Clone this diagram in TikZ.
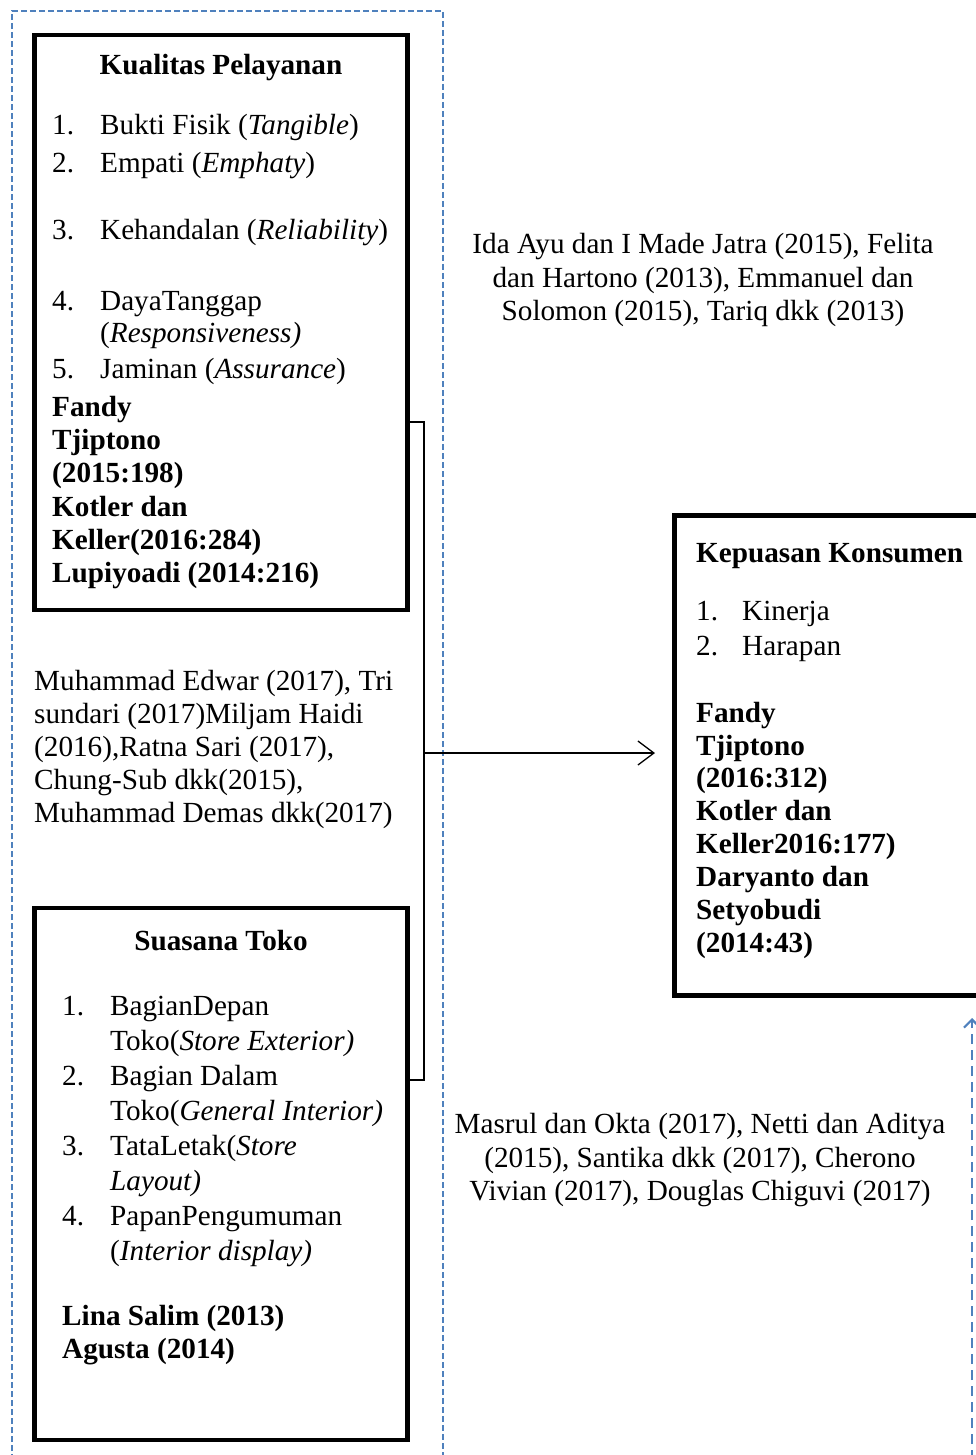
\documentclass[tikz,border=0pt]{standalone}
\usepackage{fontspec}
\setmainfont{Liberation Serif}
\usetikzlibrary{arrows.meta}
\definecolor{wblue}{HTML}{4F81BD}
\newcommand\tfs{\fontsize{29.2}{33}\selectfont}
\begin{document}
\begin{tikzpicture}[x=1pt,y=-1pt,
  box/.style={draw, line width=4.5pt, anchor=north west, inner sep=0pt, outer sep=0pt},
  conn/.style={draw, line width=1.3pt},
  txt/.style={anchor=base west, inner sep=0pt, font=\tfs},
  txtb/.style={txt, font=\tfs\bfseries},
  txtc/.style={anchor=base, inner sep=0pt, font=\tfs},
  txtcb/.style={txtc, font=\tfs\bfseries},
  frame/.style={draw=wblue, line width=1.5pt, dash pattern=on 6pt off 3pt},
  darrow/.style={draw=wblue, line width=2.2pt, dash pattern=on 10pt off 6pt}
]
\useasboundingbox (0,0) rectangle (976,1455);
\clip (0,0) rectangle (976,1455);

% outer dashed frame
\draw[frame] (12,1460) -- (12,11) -- (443,11) -- (443,1460);

% boxes
\node[box, minimum width=373pt, minimum height=575pt] (kq) at (34.5,35) {};
\node[box, minimum width=373pt, minimum height=532pt] (st) at (34.5,908) {};
\node[box, minimum width=320pt, minimum height=480pt] (kp) at (674.5,515.5) {};

% Kualitas Pelayanan
\node[txtcb] (kqt) at (221,75) {Kualitas Pelayanan};
\node[txt] (kn1) at (52,135) {1.}; \node[txt] (ki1) at (100,135) {Bukti Fisik (\textit{Tangible})};
\node[txt] (kn2) at (52,173) {2.}; \node[txt] (ki2) at (100,173) {Empati (\textit{Emphaty})};
\node[txt] (kn3) at (52,240) {3.}; \node[txt] (ki3) at (100,240) {Kehandalan (\textit{Reliability})};
\node[txt] (kn4) at (52,310) {4.}; \node[txt] (ki4) at (100,310) {DayaTanggap};
\node[txt] (ki4b) at (100,342) {(\textit{Responsiveness)}};
\node[txt] (kn5) at (52,378) {5.}; \node[txt] (ki5) at (100,378) {Jaminan (\textit{Assurance})};
\node[txtb] (kb1) at (52,416) {Fandy};
\node[txtb] (kb2) at (52,449) {Tjiptono};
\node[txtb] (kb3) at (52,482) {(2015:198)};
\node[txtb] (kb4) at (52,516) {Kotler dan};
\node[txtb] (kb5) at (52,549) {Keller(2016:284)};
\node[txtb] (kb6) at (52,582) {Lupiyoadi (2014:216)};

% middle-left references
\node[txt] (m1) at (34,690) {Muhammad Edwar (2017), Tri};
\node[txt] (m2) at (34,723) {sundari (2017)Miljam Haidi};
\node[txt] (m3) at (34,756) {(2016),Ratna Sari (2017),};
\node[txt] (m4) at (34,789) {Chung-Sub dkk(2015),};
\node[txt] (m5) at (34,822) {Muhammad Demas dkk(2017)};

% upper right references
\node[txtc] (r1) at (703,254) {Ida Ayu dan I Made Jatra (2015), Felita};
\node[txtc] (r2) at (703,287) {dan Hartono (2013), Emmanuel dan};
\node[txtc] (r3) at (703,320) {Solomon (2015), Tariq dkk (2013)};

% Kepuasan Konsumen
\node[txtb] (kpt) at (696,562) {Kepuasan Konsumen};
\node[txt] (pn1) at (696,620) {1.}; \node[txt] (pi1) at (742,620) {Kinerja};
\node[txt] (pn2) at (696,655) {2.}; \node[txt] (pi2) at (742,655) {Harapan};
\node[txtb] (pb1) at (696,722) {Fandy};
\node[txtb] (pb2) at (696,755) {Tjiptono};
\node[txtb] (pb3) at (696,787) {(2016:312)};
\node[txtb] (pb4) at (696,820) {Kotler dan};
\node[txtb] (pb5) at (696,853) {Keller2016:177)};
\node[txtb] (pb6) at (696,886) {Daryanto dan};
\node[txtb] (pb7) at (696,919) {Setyobudi};
\node[txtb] (pb8) at (696,952) {(2014:43)};

% Suasana Toko
\node[txtcb] (stt) at (221,950) {Suasana Toko};
\node[txt] (sn1) at (62,1015) {1.}; \node[txt] (si1) at (110,1015) {BagianDepan};
\node[txt] (si1b) at (110,1050) {Toko(\textit{Store Exterior)}};
\node[txt] (sn2) at (62,1085) {2.}; \node[txt] (si2) at (110,1085) {Bagian Dalam};
\node[txt] (si2b) at (110,1120) {Toko(\textit{General Interior)}};
\node[txt] (sn3) at (62,1155) {3.}; \node[txt] (si3) at (110,1155) {TataLetak(\textit{Store}};
\node[txt] (si3b) at (110,1190) {\textit{Layout)}};
\node[txt] (sn4) at (62,1225) {4.}; \node[txt] (si4) at (110,1225) {PapanPengumuman};
\node[txt] (si4b) at (110,1260) {(\textit{Interior display)}};
\node[txtb] (sb1) at (62,1325) {Lina Salim (2013)};
\node[txtb] (sb2) at (62,1358) {Agusta (2014)};

% lower right references
\node[txtc] (q1) at (700,1133) {Masrul dan Okta (2017), Netti dan Aditya};
\node[txtc] (q2) at (700,1167) {(2015), Santika dkk (2017), Cherono};
\node[txtc] (q3) at (700,1200) {Vivian (2017), Douglas Chiguvi (2017)};

% bracket connector and arrow
\coordinate (bt) at (424,422);
\coordinate (bb) at (424,1080);
\coordinate (bm) at (424,753);
\coordinate (tipk) at (655,753);
\draw[conn] (bt -| kq.east) -- (bt) -- (bb) -- (bb -| st.east);
\draw[conn, -{Straight Barb[length=16pt,width=24pt]}] (bm) -- (tipk);

% dashed arrow at right
\coordinate (da0) at (972,1460);
\coordinate (da1) at (972,1018);
\draw[darrow, -{Straight Barb[length=8pt,width=16pt]}] (da0) -- (da1);
\end{tikzpicture}
\end{document}
